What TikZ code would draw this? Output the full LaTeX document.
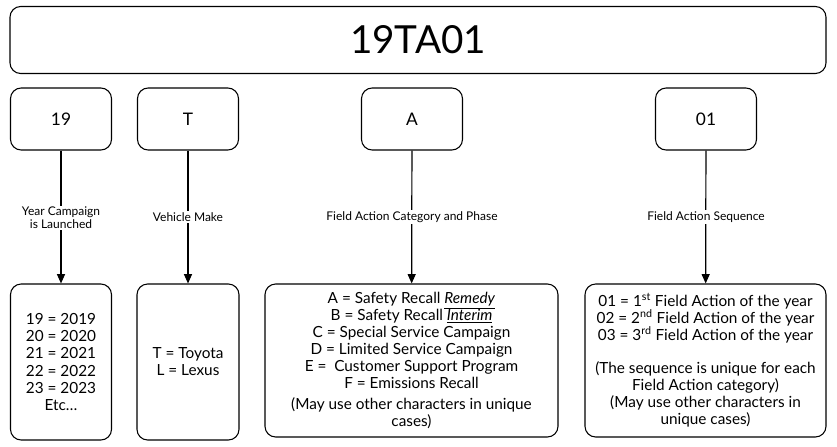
\documentclass[tikz,border=0pt]{standalone}
\usepackage{fontspec}
\setmainfont{Lato}
\usetikzlibrary{arrows.meta}
\begin{document}
\begin{tikzpicture}[x=0.75pt,y=-0.75pt,
  box/.style={draw, rounded corners=8pt, line width=0.8pt, align=center, inner sep=0pt},
  tbl/.style={box, font=\fontsize{11.5}{12.8}\selectfont},
  lbl/.style={fill=white, font=\fontsize{9}{10}\selectfont, align=center, inner sep=1pt},
  link/.style={-{Triangle[length=7pt,width=6pt]}, line width=0.9pt}]
  \useasboundingbox (0,0) rectangle (837,446);
  % title
  \node[box, minimum width=816*0.75pt, minimum height=67*0.75pt, font=\fontsize{29}{32}\selectfont] (code) at (418,40) {19TA01};
  % parts
  \foreach \n/\x/\t in {yr/61/19, mk/188/T, cat/412/A, seq/706/01}
    \node[box, minimum width=101*0.75pt, minimum height=62*0.75pt, font=\fontsize{13}{15}\selectfont] (\n) at (\x,119) {\t};
  % tables
  \node[tbl, minimum width=101*0.75pt, minimum height=156*0.75pt] (yrT) at (61,362)
    {19 = 2019\\20 = 2020\\21 = 2021\\22 = 2022\\23 = 2023\\Etc\dots};
  \node[tbl, minimum width=102*0.75pt, minimum height=156*0.75pt] (mkT) at (188,362)
    {T = Toyota\\L = Lexus};
  \node[tbl, minimum width=293*0.75pt, minimum height=153*0.75pt] (catT) at (411.5,360.5)
    {A = Safety Recall \underline{\textit{Remedy}}\\B = Safety Recall \underline{\textit{Interim}}\\
     C = Special Service Campaign\\D = Limited Service Campaign\\E = \ Customer Support Program\\
     F = Emissions Recall\\[3pt](May use other characters in unique\\cases)};
  \node[tbl, minimum width=241*0.75pt, minimum height=153*0.75pt] (seqT) at (705.5,360.5)
    {01 = 1\textsuperscript{st} Field Action of the year\\02 = 2\textsuperscript{nd} Field Action of the year\\
     03 = 3\textsuperscript{rd} Field Action of the year\\[12pt](The sequence is unique for each\\
     Field Action category)\\(May use other characters in\\unique cases)};
  % arrows
  \draw[link] (yr) -- (yrT);
  \draw[link] (mk) -- (mkT);
  \draw[link] (cat) -- (catT);
  \draw[link] (seq) -- (seqT);
  % captions
  \node[lbl] (yrL) at (61,218) {Year Campaign\\is Launched};
  \node[lbl] (mkL) at (188,217) {Vehicle Make};
  \node[lbl] (catL) at (412,217) {Field Action Category and Phase};
  \node[lbl] (seqL) at (706,217) {Field Action Sequence};
\end{tikzpicture}
\end{document}
